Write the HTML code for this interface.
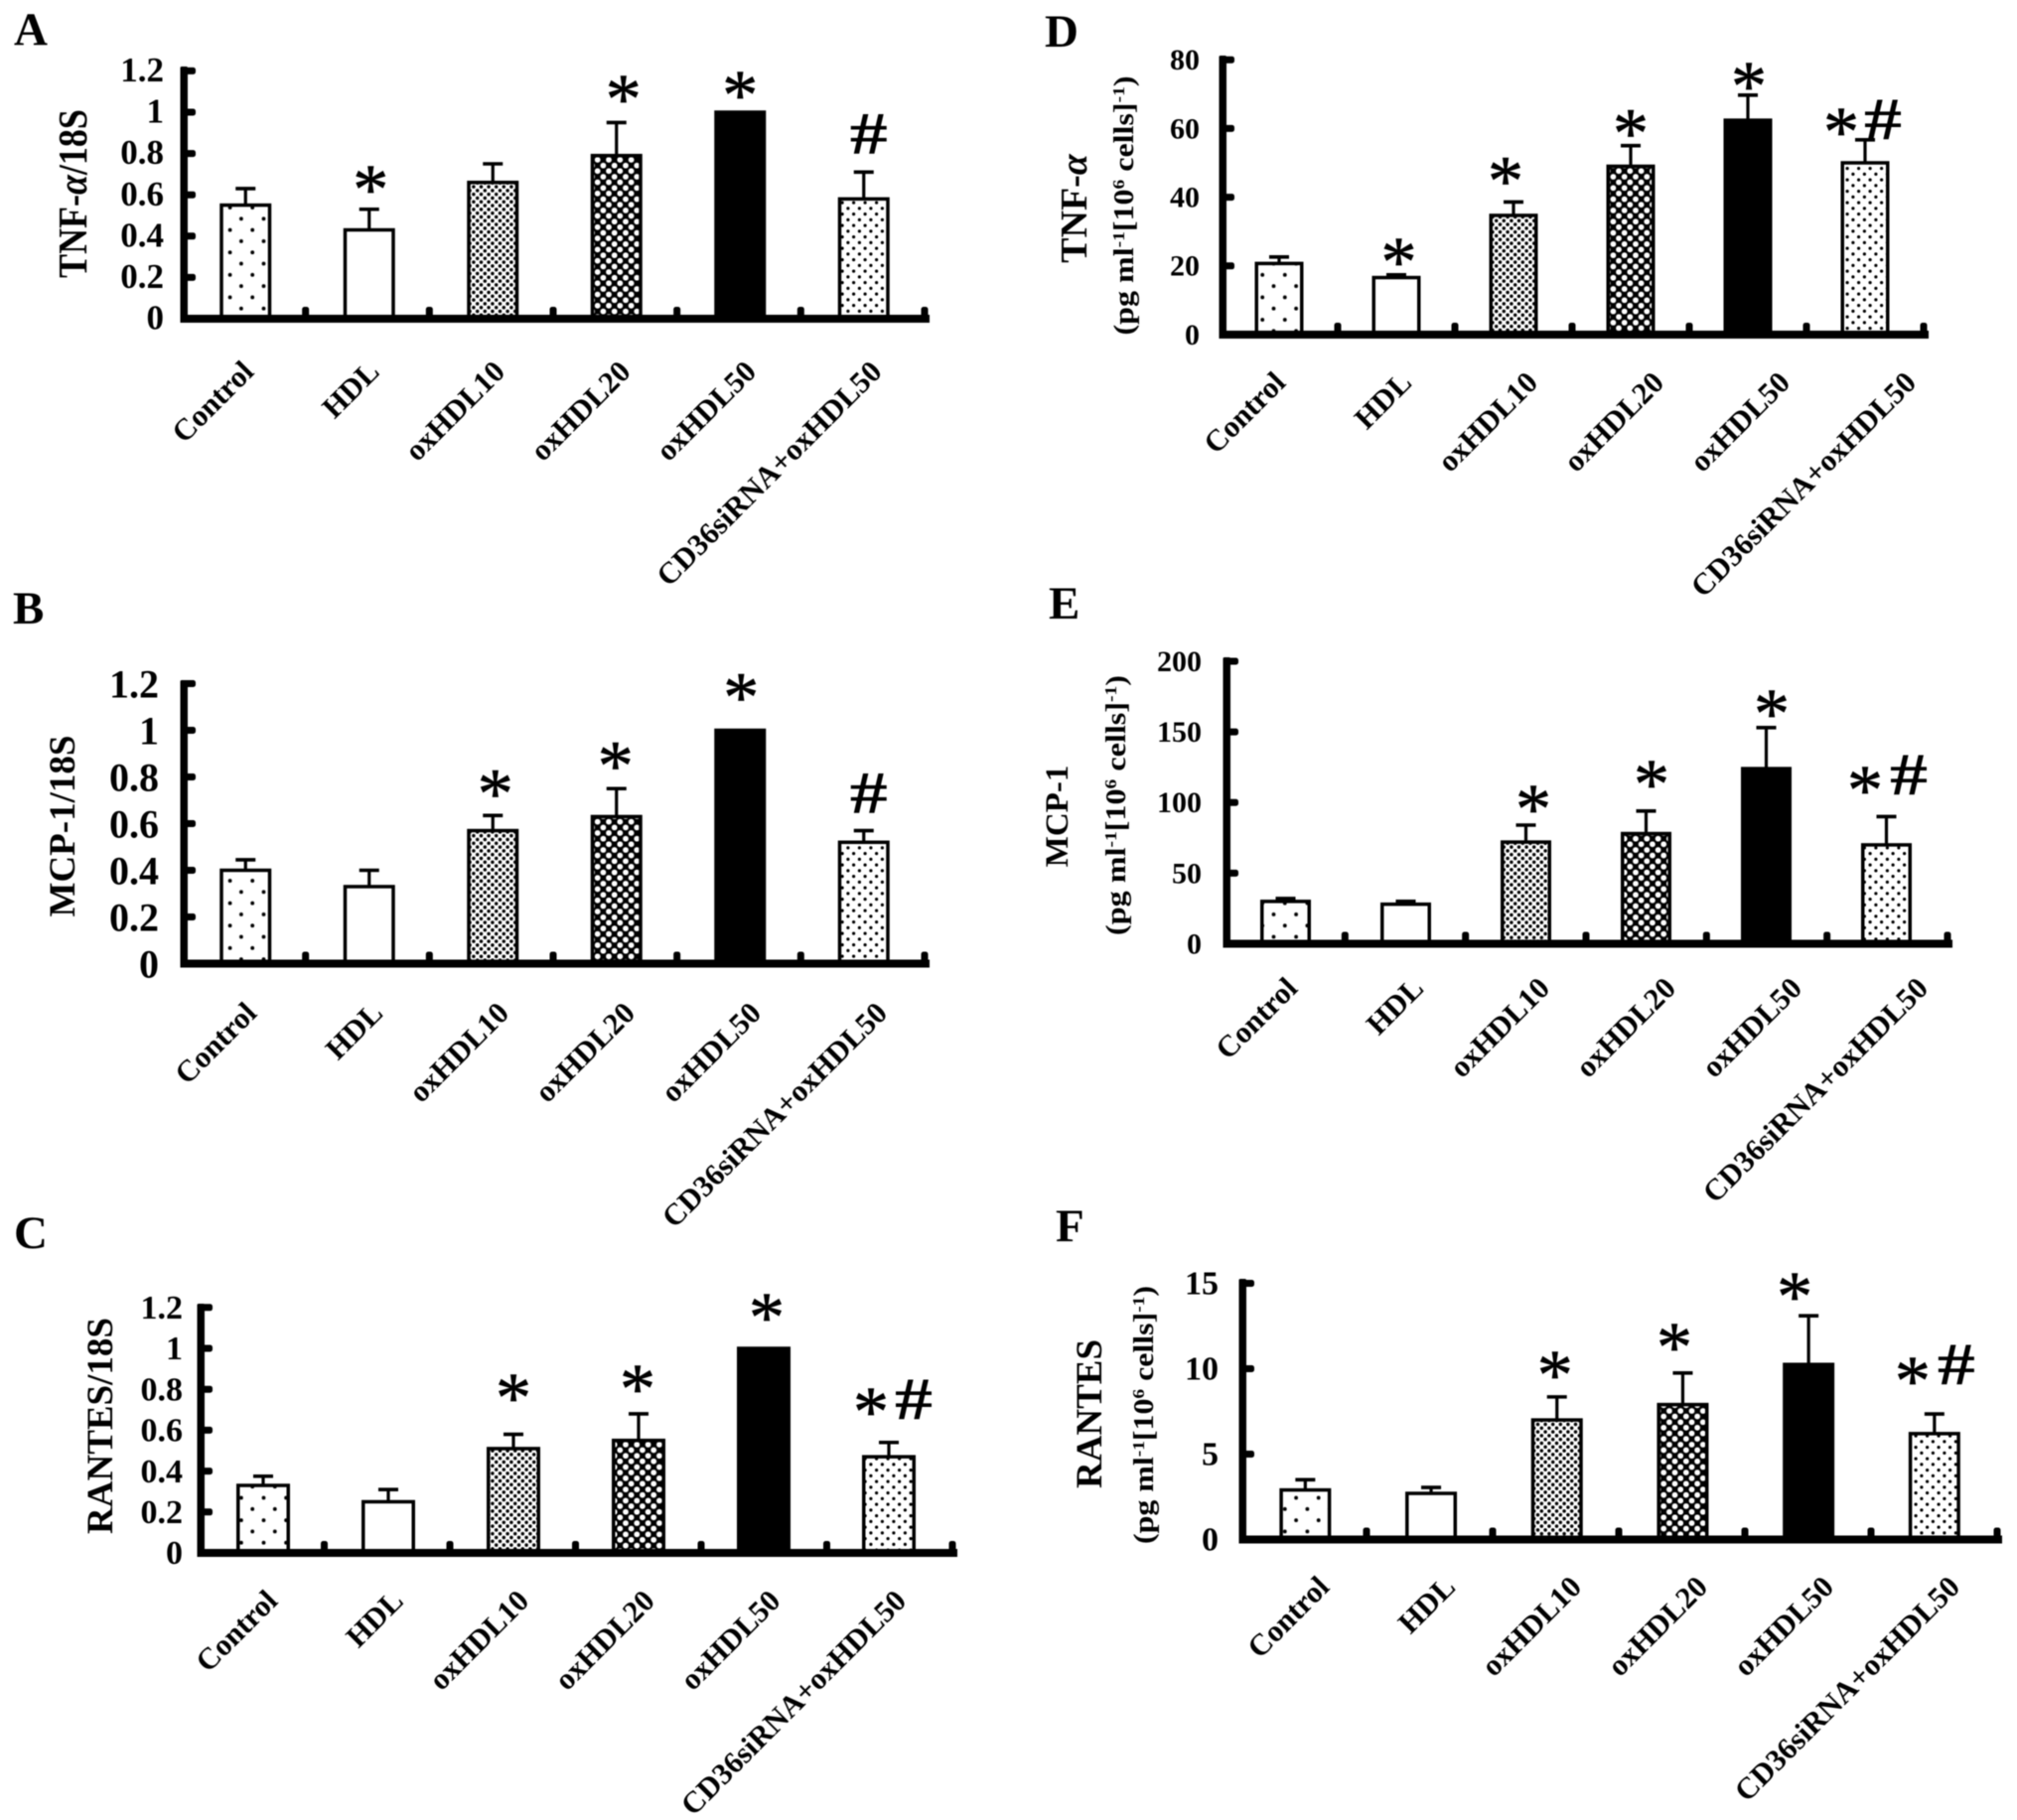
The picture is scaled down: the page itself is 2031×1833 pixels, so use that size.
<!DOCTYPE html>
<html lang="en">
<head>
<meta charset="utf-8">
<title>Cytokine expression panels A to F</title>
<style>
html,body{margin:0;padding:0;background:#fff;}
#figure{display:block;width:2031px;height:1833px;filter:blur(0.5px);}
text{font-family:"Liberation Serif","Noto Serif CJK SC",serif;font-weight:bold;fill:#000;}
</style>
</head>
<body>
<svg id="figure" xmlns="http://www.w3.org/2000/svg" width="2031" height="1833" viewBox="0 0 2031 1833">
<defs>
<pattern id="pat-sparse" width="22.6" height="22.6" patternUnits="userSpaceOnUse"><rect width="22.6" height="22.6" fill="#fff"/><circle cx="5.6" cy="5.6" r="1.9" fill="#000"/><circle cx="16.9" cy="16.9" r="1.9" fill="#000"/></pattern>
<pattern id="pat-dense" width="7.6" height="7.6" patternUnits="userSpaceOnUse"><rect width="7.6" height="7.6" fill="#fff"/><circle cx="1.9" cy="1.9" r="1.75" fill="#000"/><circle cx="5.7" cy="5.7" r="1.75" fill="#000"/></pattern>
<pattern id="pat-check" width="11.3" height="11.3" patternUnits="userSpaceOnUse"><rect width="11.3" height="11.3" fill="#000"/><circle cx="2.8" cy="2.8" r="2.9" fill="#fff"/><circle cx="8.5" cy="8.5" r="2.9" fill="#fff"/></pattern>
<pattern id="pat-medium" width="11.5" height="11.5" patternUnits="userSpaceOnUse"><rect width="11.5" height="11.5" fill="#fff"/><circle cx="2.9" cy="2.9" r="1.6" fill="#000"/><circle cx="8.6" cy="8.6" r="1.6" fill="#000"/></pattern>
</defs>
<rect width="2031" height="1833" fill="#fff"/>

<text x="14" y="45" font-size="47">A</text>
<text x="13" y="628" font-size="47">B</text>
<text x="14" y="1257" font-size="47">C</text>
<text x="1052" y="47" font-size="47">D</text>
<text x="1056" y="623" font-size="47">E</text>
<text x="1063" y="1250" font-size="47">F</text>

<text transform="translate(87,195) rotate(-90) scale(1,1.15)" text-anchor="middle" font-size="36">TNF-<tspan font-style="italic">α</tspan>/18S</text>
<text transform="translate(75,832) rotate(-90)" text-anchor="middle" font-size="37">MCP-1/18S</text>
<text transform="translate(113,1436) rotate(-90)" text-anchor="middle" font-size="37">RANTES/18S</text>

<text transform="translate(1094,210) rotate(-90)" text-anchor="middle" font-size="38">TNF-<tspan font-style="italic">α</tspan></text>
<text transform="translate(1141,207) rotate(-90)" text-anchor="middle" font-size="28" textLength="261" lengthAdjust="spacingAndGlyphs">(pg ml<tspan font-size="17" dy="-9">-1</tspan><tspan dy="9">[10</tspan><tspan font-size="17" dy="-9">6</tspan><tspan dy="9"> cells]</tspan><tspan font-size="17" dy="-9">-1</tspan><tspan dy="9">)</tspan></text>

<text transform="translate(1075,822) rotate(-90)" text-anchor="middle" font-size="33">MCP-1</text>
<text transform="translate(1133,811) rotate(-90)" text-anchor="middle" font-size="28" textLength="262" lengthAdjust="spacingAndGlyphs">(pg ml<tspan font-size="17" dy="-9">-1</tspan><tspan dy="9">[10</tspan><tspan font-size="17" dy="-9">6</tspan><tspan dy="9"> cells]</tspan><tspan font-size="17" dy="-9">-1</tspan><tspan dy="9">)</tspan></text>

<text transform="translate(1109,1424) rotate(-90)" text-anchor="middle" font-size="37">RANTES</text>
<text transform="translate(1161,1425) rotate(-90)" text-anchor="middle" font-size="28" textLength="260" lengthAdjust="spacingAndGlyphs">(pg ml<tspan font-size="17" dy="-9">-1</tspan><tspan dy="9">[10</tspan><tspan font-size="17" dy="-9">6</tspan><tspan dy="9"> cells]</tspan><tspan font-size="17" dy="-9">-1</tspan><tspan dy="9">)</tspan></text>
</svg>

<script>
// ---- Chart data ----
const categories = ['Control', 'HDL', 'oxHDL10', 'oxHDL20', 'oxHDL50', 'CD36siRNA+oxHDL50'];

const tnfRnaTicks = [0, 0.2, 0.4, 0.6, 0.8, 1, 1.2];
const tnfRnaValues = [0.55, 0.43, 0.66, 0.79, 1, 0.58];
const tnfRnaErrors = [0.08, 0.10, 0.09, 0.16, 0, 0.13];
const tnfRnaMarks = ['', '*', '', '*', '*', '#'];

const mcpRnaTicks = [0, 0.2, 0.4, 0.6, 0.8, 1, 1.2];
const mcpRnaValues = [0.40, 0.33, 0.57, 0.63, 1, 0.52];
const mcpRnaErrors = [0.045, 0.07, 0.065, 0.12, 0, 0.05];
const mcpRnaMarks = ['', '', '*', '*', '*', '#'];

const rantesRnaTicks = [0, 0.2, 0.4, 0.6, 0.8, 1, 1.2];
const rantesRnaValues = [0.33, 0.25, 0.51, 0.55, 1, 0.47];
const rantesRnaErrors = [0.045, 0.06, 0.07, 0.13, 0, 0.07];
const rantesRnaMarks = ['', '', '*', '*', '*', '*#'];

const tnfProteinTicks = [0, 20, 40, 60, 80];
const tnfProteinValues = [20.7, 16.6, 34.7, 49, 62.4, 50];
const tnfProteinErrors = [1.9, 0.8, 3.9, 6, 7.3, 6.7];
const tnfProteinMarks = ['', '*', '*', '*', '*', '*#'];

const mcpProteinTicks = [0, 50, 100, 150, 200];
const mcpProteinValues = [30, 28, 72, 78, 124, 70];
const mcpProteinErrors = [2, 2, 12, 16, 29, 20];
const mcpProteinMarks = ['', '', '*', '*', '*', '*#'];

const rantesProteinTicks = [0, 5, 10, 15];
const rantesProteinValues = [2.9, 2.7, 7.0, 7.9, 10.25, 6.2];
const rantesProteinErrors = [0.6, 0.35, 1.35, 1.85, 2.85, 1.15];
const rantesProteinMarks = ['', '', '*', '*', '*', '*#'];

// ---- Layout (geometry only) ----
const barFills = ['url(#pat-sparse)', '#fff', 'url(#pat-dense)', 'url(#pat-check)', '#000', 'url(#pat-medium)'];

const panels = [
  {id: 'a', ticks: tnfRnaTicks, values: tnfRnaValues, errors: tnfRnaErrors, marks: tnfRnaMarks,
   left: 185, step: 124.5, barShift: 0, barW: 52, y0: 321, unit: 208, top: 67, right: 936,
   tickFont: 35, tickRight: 165, tickDy: -1, labelX: 257, labelY: 376, labelStep: 126.5,
   starOff: [[0,0],[1.5,29],[0,0],[7,32.5],[0,26],[0,0]], hashOff: [0,0,0,0,0,[5,39]]},
  {id: 'b', ticks: mcpRnaTicks, values: mcpRnaValues, errors: mcpRnaErrors, marks: mcpRnaMarks,
   left: 185, step: 124.5, barShift: 0, barW: 52, y0: 970.5, unit: 235, top: 685, right: 936,
   tickFont: 40, tickRight: 160, tickDy: 1, labelX: 260, labelY: 1022, labelStep: 127,
   starOff: [[0,0],[0,0],[2.5,31],[-1,32],[1,42],[0,0]], hashOff: [0,0,0,0,0,[5,38]]},
  {id: 'c', ticks: rantesRnaTicks, values: rantesRnaValues, errors: rantesRnaErrors, marks: rantesRnaMarks,
   left: 202, step: 126, barShift: 0, barW: 54, y0: 1564, unit: 206, top: 1313, right: 964,
   tickFont: 34, tickRight: 184, tickDy: 0, labelX: 281, labelY: 1614, labelStep: 126.6,
   starOff: [[0,0],[0,0],[0,45.5],[-1,34],[3,40],[-18,40]], hashOff: [0,0,0,0,0,[25,44]]},
  {id: 'd', ticks: tnfProteinTicks, values: tnfProteinValues, errors: tnfProteinErrors, marks: tnfProteinMarks,
   left: 1231, step: 118, barShift: -2, barW: 49, y0: 337, unit: 3.46, top: 56, right: 1942,
   tickFont: 30, tickRight: 1208, tickDy: 0, labelX: 1296, labelY: 387, labelStep: 127,
   starOff: [[0,0],[2.5,22],[-8,30],[0,21],[1,18],[-24,17]], hashOff: [0,0,0,0,0,[18,21]]},
  {id: 'e', ticks: mcpProteinTicks, values: mcpProteinValues, errors: mcpProteinErrors, marks: mcpProteinMarks,
   left: 1235, step: 121, barShift: -1, barW: 51, y0: 950.5, unit: 1.4225, top: 662, right: 1966,
   tickFont: 30, tickRight: 1210, tickDy: 0, labelX: 1308, labelY: 997, labelStep: 127,
   starOff: [[0,0],[0,0],[7.5,25],[5.5,36],[5.5,23],[-21.5,35.5]], hashOff: [0,0,0,0,0,[22.5,42.5]]},
  {id: 'f', ticks: rantesProteinTicks, values: rantesProteinValues, errors: rantesProteinErrors, marks: rantesProteinMarks,
   left: 1251, step: 126.7, barShift: 0, barW: 52, y0: 1550.5, unit: 17.2, top: 1288, right: 2016,
   tickFont: 34, tickRight: 1227, tickDy: 0, labelX: 1340, labelY: 1600, labelStep: 127,
   starOff: [[0,0],[0,0],[-2,31],[-8.5,35],[-14,28],[-22,42]], hashOff: [0,0,0,0,0,[22,50]]}
];

// ---- Drawing ----
const SVG_NS = 'http://www.w3.org/2000/svg';
const figure = document.getElementById('figure');

function make(tag, attrs, parent) {
  const node = document.createElementNS(SVG_NS, tag);
  for (const key in attrs) node.setAttribute(key, attrs[key]);
  parent.appendChild(node);
  return node;
}

function drawPanel(p) {
  const yScale = function (v) { return p.y0 - v * p.unit; };
  const xBand = function (i) { return p.left + p.step * (i + 0.5) + p.barShift; };
  const xBoundary = function (i) { return p.left - 2 + (p.right - 5 - p.left + 2) * (i + 1) / categories.length; };

  const group = make('g', {}, figure);
  
  

  p.values.forEach(function (value, i) {
    const cx = xBand(i);
    const capY = yScale(value + p.errors[i]);

    if (p.errors[i] > 0) {
      const stem = make('line', {x1: cx, x2: cx, y1: yScale(value), y2: capY, stroke: '#000', 'stroke-width': 3.2}, group);
      
      
      const cap = make('line', {x1: cx - 10, x2: cx + 10, y1: capY, y2: capY, stroke: '#000', 'stroke-width': 3.6}, group);
      
      
    }

    const top = yScale(value);
    const bar = make('rect', {x: cx - p.barW / 2 + 1.75, y: top, width: p.barW - 3.5, height: p.y0 - top,
      fill: barFills[i], stroke: '#000', 'stroke-width': 3.5}, group);
    
    

    const tickX = xBoundary(i);
    const xTick = make('rect', {x: tickX - 3.5, y: p.y0 - 12, width: 7, height: 12, rx: 2.5, fill: '#000'}, group);
    
    

    const lx = p.labelX + p.labelStep * i;
    const label = make('text', {'text-anchor': 'end', 'font-size': 30.5,
      transform: 'translate(' + lx + ',' + p.labelY + ') rotate(-45)'}, group);
    
    
    label.textContent = categories[i];

    const mark = p.marks[i];
    if (mark.indexOf('*') >= 0) {
      const off = p.starOff[i];
      const star = make('text', {'text-anchor': 'middle', 'font-size': 72, x: cx + off[0], y: capY - off[1] + 33,
        stroke: '#000', 'stroke-width': 0.7, style: 'font-weight:normal'}, group);
      
      
      star.textContent = '*';
    }
    if (mark.indexOf('#') >= 0) {
      const off = p.hashOff[i];
      const hash = make('text', {'text-anchor': 'middle', 'font-size': 60, x: cx + off[0], y: capY - off[1] + 20,
        textLength: 38, lengthAdjust: 'spacingAndGlyphs'}, group);
      
      
      hash.textContent = '#';
    }
  });

  const spine = make('rect', {x: p.left - 3.5, y: p.top, width: 7.5, height: p.y0 - p.top + 4, fill: '#000', rx: 1.5}, group);
  
  

  const baseline = make('rect', {x: p.left - 3.5, y: p.y0 - 4, width: p.right - p.left + 3.5, height: 8, fill: '#000'}, group);
  
  

  p.ticks.forEach(function (t, i) {
    const y = yScale(t);
    const yTick = make('rect', {x: p.left, y: y - 3.5, width: 12, height: 7, rx: 2.5, fill: '#000'}, group);
    
    

    const tickLabel = make('text', {'text-anchor': 'end', 'font-size': p.tickFont, x: p.tickRight, y: y + p.tickFont * 0.33 + p.tickDy}, group);
    
    
    tickLabel.textContent = String(t);
  });
}

panels.forEach(drawPanel);
</script>
</body>
</html>
